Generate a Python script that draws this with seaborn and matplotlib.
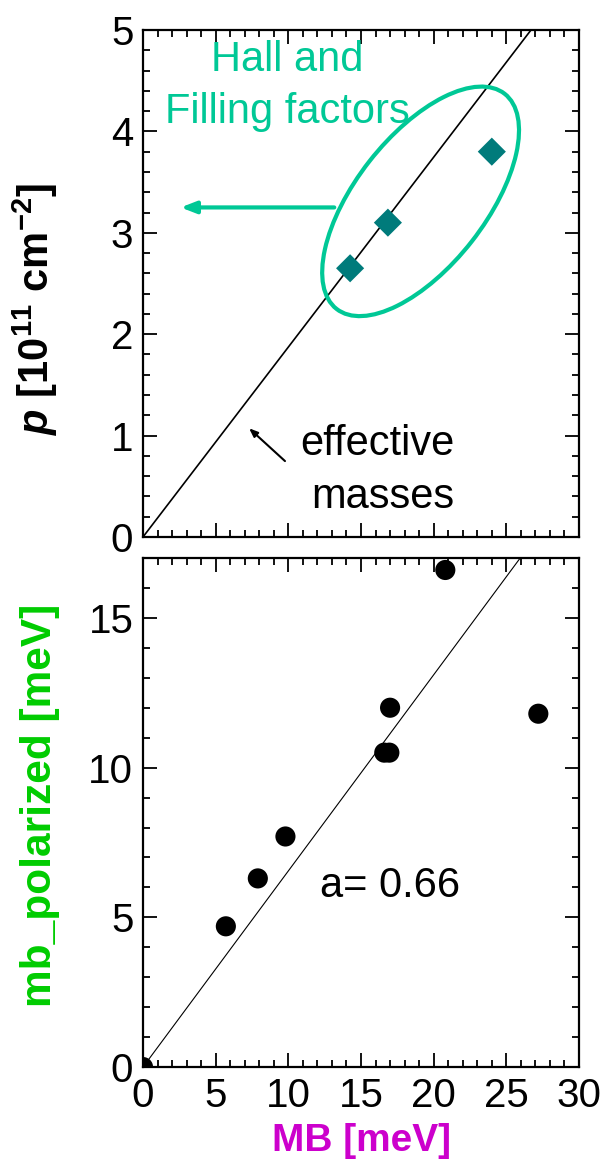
import numpy as np
import pandas as pd
import seaborn as sns
import matplotlib.pyplot as plt
from matplotlib.patches import Ellipse
from matplotlib.transforms import ScaledTranslation
from matplotlib.ticker import MultipleLocator

# pannello alto: densita' da Hall / filling factors
mb_hall = [14.25, 16.85, 24.0]
p_hall = [2.65, 3.10, 3.80]
slope_mass = 0.1873   # retta "effective masses"

# pannello basso: MB vs mb_polarized
mb = [0.0, 5.7, 7.9, 9.8, 16.6, 16.95, 17.0, 20.8, 27.2]
mb_pol = [0.0, 4.7, 6.3, 7.7, 10.5, 10.5, 12.0, 16.6, 11.8]
slope_fit = 0.655

teal = '#007B7B'
green_ann = '#00C896'

sns.set_style("ticks")
plt.rcParams['font.family'] = ['Liberation Sans', 'DejaVu Sans']
plt.rcParams['text.color'] = 'black'
plt.rcParams['mathtext.fontset'] = 'custom'
plt.rcParams['mathtext.rm'] = 'Liberation Sans:bold'
plt.rcParams['mathtext.it'] = 'Liberation Sans:italic:bold'
plt.rcParams['mathtext.bf'] = 'Liberation Sans:bold'

fig = plt.figure(figsize=(6.07, 11.63), dpi=100)
ax1 = fig.add_axes([0.2356, 0.5383, 0.7183, 0.4359])
ax2 = fig.add_axes([0.2356, 0.0825, 0.7183, 0.4377])

fs = 29

for ax in [ax1, ax2]:
    ax.set_xlim(0, 30)
    ax.xaxis.set_major_locator(MultipleLocator(5))
    ax.xaxis.set_minor_locator(MultipleLocator(1))
    ax.tick_params(which='both', direction='in', top=True, right=True, width=1.3, colors='black')
    ax.tick_params(which='major', length=10, labelsize=fs, pad=7)
    ax.tick_params(which='minor', length=5)
    for sp in ax.spines.values():
        sp.set_linewidth(1.6)
        sp.set_color('black')

# ---- pannello alto ----
ax1.set_ylim(0, 5)
ax1.yaxis.set_major_locator(MultipleLocator(1))
ax1.yaxis.set_minor_locator(MultipleLocator(0.2))
ax1.tick_params(axis='x', labelbottom=False)
ax1.axline((0, 0), slope=slope_mass, color='black', lw=1.2)
df_top = pd.DataFrame({'MB': mb_hall, 'p': p_hall})
sns.scatterplot(data=df_top, x='MB', y='p', marker='D', s=205, color=teal,
                edgecolor='none', ax=ax1, zorder=3)

# ellisse attorno ai punti
trans = fig.dpi_scale_trans + ScaledTranslation(19.1, 3.31, ax1.transData)
ax1.add_patch(Ellipse((0, 0), 2.73, 1.30, angle=52, transform=trans,
                      fill=False, edgecolor=green_ann, lw=3.0, zorder=4))
ax1.annotate('', xy=(2.4, 3.25), xytext=(13.35, 3.25),
             arrowprops=dict(arrowstyle='-|>,head_length=0.9,head_width=0.35',
                             color=green_ann, lw=3))
ax1.text(9.9, 4.60, 'Hall and', color=green_ann, fontsize=30, ha='center', va='baseline')
ax1.text(9.9, 4.08, 'Filling factors', color=green_ann, fontsize=30, ha='center', va='baseline')
ax1.annotate('', xy=(7.16, 1.09), xytext=(9.91, 0.73),
             arrowprops=dict(arrowstyle='-|>,head_length=0.5,head_width=0.2',
                             color='black', lw=1.5))
ax1.text(21.45, 0.81, 'effective', fontsize=30, color='black', ha='right', va='baseline')
ax1.text(21.45, 0.29, 'masses', fontsize=30, color='black', ha='right', va='baseline')
ax1.set_xlabel('')
ax1.set_ylabel(r'$\mathit{p}$ [10$^{11}$ cm$^{-2}$]', fontsize=30,
               fontweight='bold', color='black')
ax1.yaxis.set_label_coords(-0.19, 0.45)

# ---- pannello basso ----
ax2.set_ylim(0, 17)
ax2.yaxis.set_major_locator(MultipleLocator(5))
ax2.yaxis.set_minor_locator(MultipleLocator(1))
ax2.axline((0, 0), slope=slope_fit, color='black', lw=0.8)
df_bot = pd.DataFrame({'MB': mb, 'mb_pol': mb_pol})
sns.scatterplot(data=df_bot, x='MB', y='mb_pol', marker='o', s=210, color='black',
                edgecolor='none', ax=ax2, zorder=3)
ax2.text(17.0, 5.67, 'a= 0.66', fontsize=30, color='black', ha='center', va='baseline')
ax2.set_xlabel('MB [meV]', fontsize=28, fontweight='bold', color='#CC00CC', labelpad=6)
ax2.set_ylabel('mb_polarized [meV]', fontsize=30.5, fontweight='bold', color='#00CC00')
ax2.yaxis.set_label_coords(-0.19, 0.515)

fig.savefig('out.png', dpi=100)
